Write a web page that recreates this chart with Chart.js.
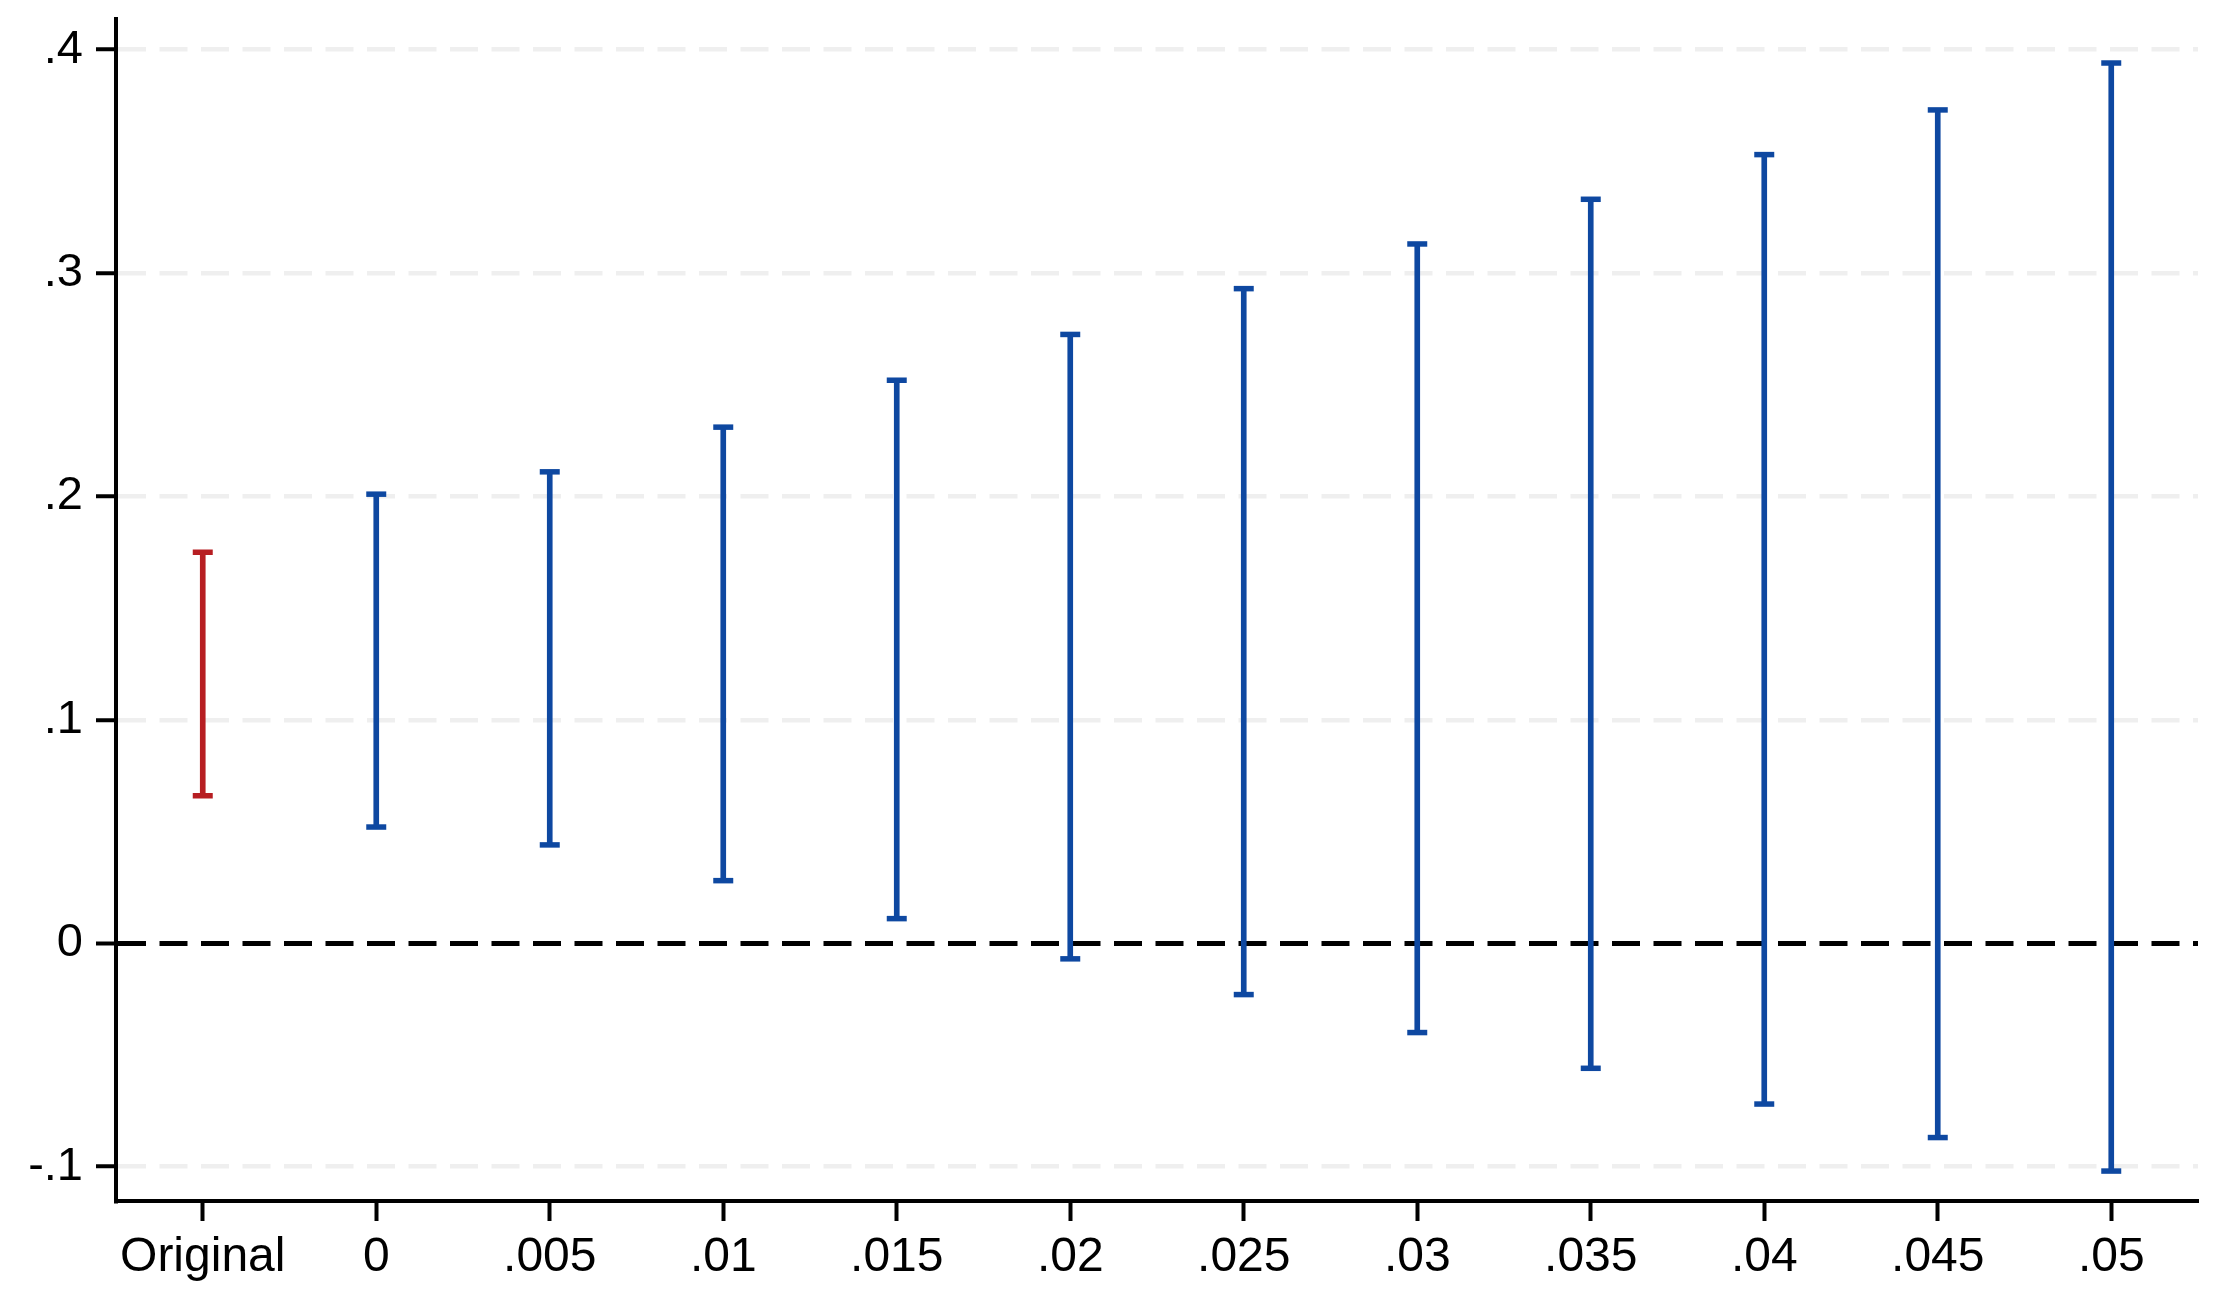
<!DOCTYPE html>
<html>
<head>
<meta charset="utf-8">
<script src="https://cdn.jsdelivr.net/npm/chart.js@4"></script>
<style>
  html, body { margin: 0; padding: 0; background: #ffffff; }
  #wrap { width: 2219px; height: 1310px; }
</style>
</head>
<body>
<div id="wrap"><canvas id="c" width="2219" height="1310"></canvas></div>
<script>
// ---- data ----
const categories = ['Original', '0', '.005', '.01', '.015', '.02', '.025', '.03', '.035', '.04', '.045', '.05'];
const upperCI = [0.175, 0.201, 0.211, 0.231, 0.252, 0.2725, 0.293, 0.313, 0.333, 0.353, 0.373, 0.394];
const lowerCI = [0.066, 0.052, 0.044, 0.028, 0.011, -0.007, -0.023, -0.040, -0.056, -0.072, -0.087, -0.102];
const yTickValues = [-0.1, 0, 0.1, 0.2, 0.3, 0.4];
const yTickLabels = ['-.1', '0', '.1', '.2', '.3', '.4'];
const referenceValue = 0;

// ---- styling ----
const RED = 'rgb(183,30,34)';
const BLUE = 'rgb(14,72,161)';
const barColors = categories.map((c, i) => i === 0 ? RED : BLUE);
const FONT_X = { family: "'Liberation Sans', Arial, sans-serif", size: 48 };
const FONT_Y = { family: "'Liberation Sans', Arial, sans-serif", size: 47, lineHeight: 0.8 };

const ranges = categories.map((c, i) => [lowerCI[i], upperCI[i]]);

const capDataset = (vals) => ({
  type: 'line',
  data: vals,
  showLine: false,
  pointStyle: 'line',
  pointRadius: 10,
  pointHoverRadius: 10,
  pointBorderWidth: 5.5,
  pointBorderColor: barColors,
  pointBackgroundColor: barColors,
  clip: false
});

new Chart(document.getElementById('c'), {
  type: 'bar',
  data: {
    labels: categories,
    datasets: [
      {
        type: 'bar',
        data: ranges,
        backgroundColor: barColors,
        borderWidth: 0,
        barThickness: 5,
        grouped: false
      },
      capDataset(upperCI),
      capDataset(lowerCI)
    ]
  },
  options: {
    responsive: false,
    animation: false,
    devicePixelRatio: 1,
    events: [],
    layout: { padding: { top: 19, right: 21, bottom: 0, left: 0 } },
    plugins: { legend: { display: false }, tooltip: { enabled: false } },
    scales: {
      x: {
        type: 'category',
        offset: true,
        grid: {
          offset: false,
          drawOnChartArea: false,
          drawTicks: true,
          tickLength: 20,
          tickWidth: 4,
          tickColor: '#000000',
          tickBorderDash: []
        },
        border: { display: true, color: '#000000', width: 4 },
        ticks: {
          autoSkip: false,
          maxRotation: 0,
          minRotation: 0,
          padding: 8,
          color: '#000000',
          font: FONT_X
        },
        afterFit: (scale) => {
          scale.height = 109;
          scale.paddingLeft = 0;
          scale.paddingRight = 0;
        }
      },
      y: {
        type: 'linear',
        min: -0.1154,
        max: 0.4137,
        afterBuildTicks: (scale) => {
          scale.ticks = yTickValues.map(v => ({ value: v }));
        },
        afterFit: (scale) => {
          scale.width = 116;
          scale.paddingTop = 0;
          scale.paddingBottom = 0;
        },
        grid: {
          drawOnChartArea: true,
          drawTicks: true,
          tickLength: 20,
          tickWidth: 4,
          tickColor: '#000000',
          tickBorderDash: [],
          color: (ctx) => (ctx.tick && ctx.tick.value === referenceValue) ? '#000000' : '#EFEFEF',
          lineWidth: (ctx) => (ctx.tick && ctx.tick.value === referenceValue) ? 5 : 4.5
        },
        border: {
          display: true,
          color: '#000000',
          width: 4,
          dash: [28, 13.5],
          dashOffset: 0
        },
        ticks: {
          padding: 13,
          color: '#000000',
          font: FONT_Y,
          callback: (value) => {
            const idx = yTickValues.findIndex(v => Math.abs(v - value) < 1e-9);
            return idx >= 0 ? yTickLabels[idx] : '';
          }
        }
      }
    }
  }
});
</script>
</body>
</html>
